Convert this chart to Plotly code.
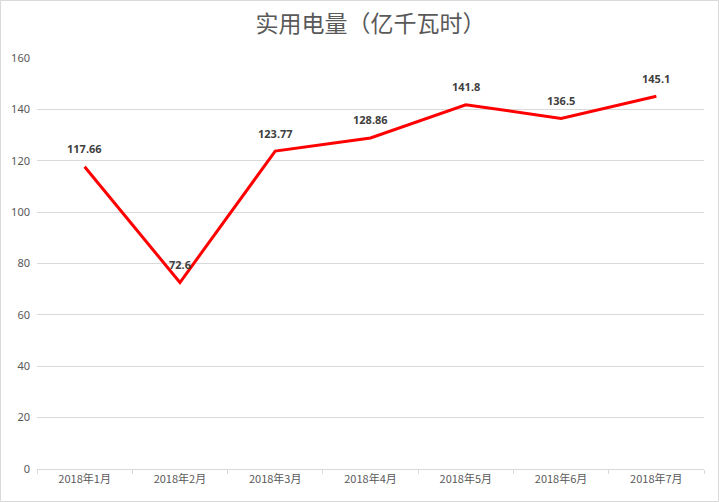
import plotly.graph_objects as go

# Monthly electricity consumption (100 million kWh)
months = ["2018年1月", "2018年2月", "2018年3月", "2018年4月", "2018年5月", "2018年6月", "2018年7月"]
values = [117.66, 72.6, 123.77, 128.86, 141.8, 136.5, 145.1]
labels = ["117.66", "72.6", "123.77", "128.86", "141.8", "136.5", "145.1"]
y_ticks = [0, 20, 40, 60, 80, 100, 120, 140, 160]

W, H = 719, 502
L, R, T, B = 37, 15, 58, 33
pw, ph = W - L - R, H - T - B

fig = go.Figure()
fig.add_trace(go.Scatter(
    x=months, y=values, mode="lines",
    line=dict(color="#ff0000", width=3),
    hoverinfo="skip", showlegend=False,
))

# value labels above each point
for m, v, t in zip(months, values, labels):
    fig.add_annotation(
        x=m, y=v, text="<b>" + t + "</b>", showarrow=False, yshift=18,
        font=dict(family="Noto Sans, Open Sans, sans-serif", size=11, color="#404040"),
    )

# outer chart border
fig.add_shape(
    type="rect", xref="paper", yref="paper",
    x0=(0.5 - L) / pw, x1=(W - 0.5 - L) / pw,
    y0=(ph + T - (H - 0.5)) / ph, y1=(ph + T - 0.5) / ph,
    line=dict(color="#d9d9d9", width=1), layer="below",
)

cjk = "Noto Sans CJK SC, Noto Sans, sans-serif"
fig.update_layout(
    width=W, height=H,
    margin=dict(l=L, r=R, t=T, b=B),
    paper_bgcolor="white", plot_bgcolor="white",
    title=dict(text="实用电量（亿千瓦时）", x=0.5, xref="paper", xanchor="center",
               y=1 - 24 / H, yanchor="middle",
               font=dict(family=cjk, size=23, color="#595959")),
    xaxis=dict(
        type="category", tickson="boundaries", ticks="outside", ticklen=4,
        tickcolor="#d9d9d9", showline=True, linecolor="#d9d9d9", linewidth=1,
        showgrid=False, range=[-0.5, 6.5],
        tickfont=dict(family=cjk, size=11, color="#595959"),
    ),
    yaxis=dict(
        range=[0, 160], tickvals=y_ticks, showgrid=True, gridcolor="#d9d9d9",
        gridwidth=1, zeroline=False, showline=False, ticks="",
        tickfont=dict(family="Noto Sans, Open Sans, sans-serif", size=11, color="#595959"),
        ticklabelstandoff=6,
    ),
)

fig.write_html("out.html")
